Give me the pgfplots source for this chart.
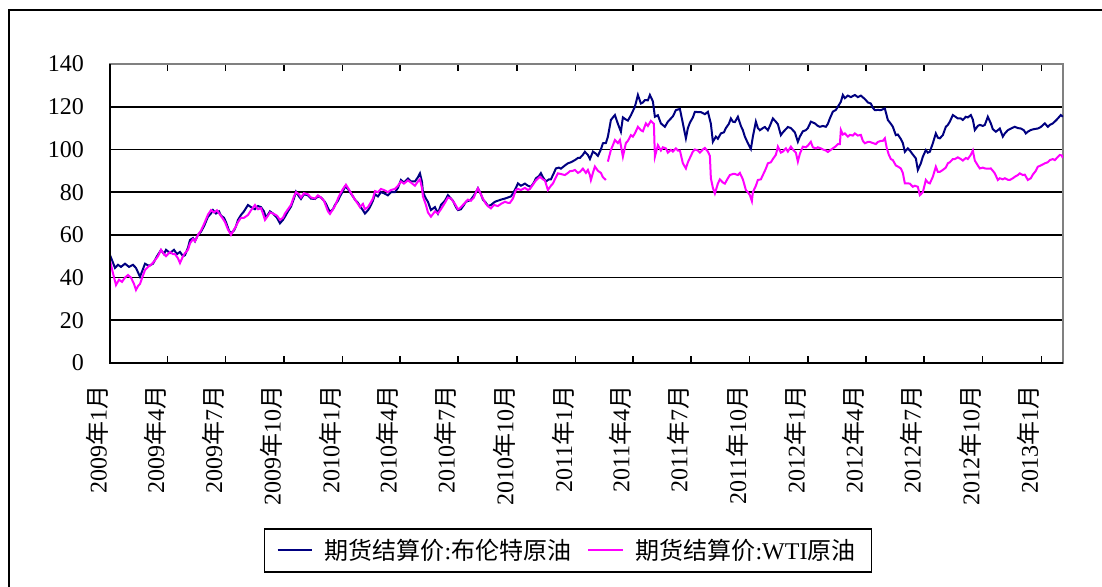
\documentclass[border=0pt]{standalone}
\usepackage{fontspec}
\setmainfont{Liberation Serif}
\newfontfamily\cjk{Noto Sans CJK SC}
\usepackage{pgfplots}
\usepackage{pgfplotstable}
\pgfplotsset{compat=1.18}
\definecolor{brentc}{RGB}{0,0,128}
\definecolor{wtic}{RGB}{255,0,255}
\newcommand\ny[2]{#1{\cjk 年}#2{\cjk 月}}

% p = horizontal position on the reference (date axis), v = price
\pgfplotstableread{
p v
110 50.5
113 47
115 44.5
118 46
121 45
125 46.5
129 45
133 46
136 44.5
140 40.4
143 44
145 46.5
149 45.5
153 46.5
157 50
161 52.9
164 51
166 53
170 51.5
174 53
177 51
180 52
183 50
185 50.5
188 54
190 57.6
193 58.5
195 57
198 60
201 61.5
204 64
208 68.5
211 70
213 71.6
216 70
219 71
221 69
224 68
226 66
229 62
231 60.8
234 62
236 64
238 67
241 69.3
244 71
248 74
251 73
255 72
258 73.5
261 73
264 71
266 68
270 71
273 70
277 68
280 65.4
283 67
285 68.5
288 71
291 73.2
294 77
296 80.2
299 78
301 76.8
304 79
308 78.5
311 77
315 76.8
318 78
321 77.5
324 76
326 74.6
328 72.5
330 70.8
333 72
335 74
338 76
340 78
343 80.5
345 82.6
348 81.5
350 80
353 78
355 76.5
358 75
360 73.5
363 71.5
365 70
368 71.5
370 73
373 76
375 79
378 78
381 80
384 79.5
388 78.5
391 80
395 80
398 82
401 85.7
404 84.5
408 86.4
411 85
415 85
418 87
420 88.8
422 85
423 80
426 77
428 75.5
431 71.6
435 73
438 70
441 74
445 76
448 78.6
451 77
453 76
456 73
458 71.6
461 72
464 74
466 75.5
469 76
471 76.5
474 78.5
476 80
478 81.8
481 79
483 76.5
486 75
488 73.5
491 74
495 75.5
498 76
501 76.5
505 77
508 77.5
511 78
513 79.4
516 82
518 84.1
521 83
525 84
528 83
531 82.5
534 84.5
536 86.5
539 87.5
541 88.9
543 87
546 85
549 86
551 86
554 89
556 91.1
559 91.5
561 91
565 92.5
568 93.5
571 94
575 95
578 96
580 96
583 97.5
585 98.9
588 97.4
590 95.5
593 99
596 98
598 97
601 100
603 102.9
606 103
608 106
611 113.8
613 115
615 116.1
618 112
621 108.3
623 115
626 114
628 113.5
631 116
633 118
635 120
638 125.5
641 121.5
643 122
645 123.1
648 123
650 125.5
653 122.5
655 115.3
658 116
661 112.2
665 110.6
668 113
671 114.5
673 115.5
676 118.4
680 119
683 112.2
686 105.2
688 110
690 112.5
693 115
695 117.6
698 117.5
701 117.5
705 116.5
708 117.6
711 112
713 103.6
716 106
718 105
721 107.5
724 108
726 110
729 112
731 114.5
733 113
735 112.8
738 115.3
741 111
743 109
745 106
748 102.9
751 100.2
753 106
756 113
758 110
760 109
763 110
765 110.5
768 109
770 111
773 114.5
776 113
778 111.8
781 106.7
783 108
786 109.5
788 110.5
791 110
793 109
795 108
798 103.6
800 106
803 108.5
806 109
808 110
811 113
815 112.2
818 111
820 110.6
823 111
826 110.6
828 112
830 114.5
833 117.7
836 118.5
838 120
841 122.3
843 125.5
845 124
848 125.2
851 124.5
855 125.5
858 124.5
861 125.2
864 124
866 123.1
868 122
871 121.5
873 119.5
875 118.4
878 118.5
881 118.4
885 119.2
888 113.8
891 112
893 110.6
896 106.7
898 107
901 104.9
903 103
905 98.9
908 100.5
910 99.5
913 97.6
916 95.8
918 90.4
921 93.5
923 96.6
926 99.7
928 98.5
930 98.9
933 102.9
936 107.5
938 105.5
940 105.2
943 106.7
946 110.6
948 111.5
950 113
953 116.1
955 115.5
958 114.5
961 114.5
963 113.8
966 115.3
968 115
971 116.1
973 114
975 109.1
978 111
980 111.5
983 111
985 111.5
988 115.3
991 112.2
993 109.5
996 108.3
998 109
1000 109.8
1003 106
1005 107.5
1008 109
1012 110
1015 110.6
1018 110
1021 109.8
1024 109
1026 107.5
1028 108.3
1031 109.1
1034 109.5
1038 109.8
1041 110.5
1045 112.2
1048 110.6
1050 111.5
1053 112.2
1056 113.5
1058 114.5
1061 116.1
1063 115.3
}\brent

\pgfplotstableread{
p v
110 48
113 42
116 36.5
119 39
122 38
125 40
128 41.2
131 40
134 37
136 34.2
138 36
140 37
143 41
145 43.5
148 45
151 46
154 47.5
158 50
161 53
164 51
166 50
170 52
173 51
175 51
178 49
180 46.8
183 50
185 51.5
188 53
190 56
193 58
195 57
198 60
201 62
204 65
208 69.5
211 71.6
214 70.5
217 71.5
220 69.5
223 67.5
225 66
228 62.5
231 60
234 62.5
236 64
238 66
241 68
244 68
248 69.3
251 71.5
255 74
258 72
261 72.5
263 70
265 67
268 69
270 70.5
273 70
277 69
280 67
283 68
285 70
288 72
291 74
294 78
296 80
299 79
301 77.5
304 79.5
308 79
311 77.5
315 77
318 78.5
321 77.5
324 76
326 73.5
328 71
330 69.8
333 72
335 73.5
338 77
340 79
343 81.5
346 83.5
348 82
350 80.5
353 78
355 76.5
358 74.5
360 73
363 74.5
365 72
368 73
370 74.5
373 77
375 80.5
378 80
381 81.5
384 81
388 80
391 81
395 81.5
398 83
401 85
404 84
408 85.5
411 84.5
415 83
418 85
420 86
422 82
423 78
426 74
428 70.5
431 68.5
435 71
438 70
441 72
445 75
448 77.5
451 77
455 74.5
458 72
460 72.5
463 74
465 75
468 76.5
471 76
474 77.5
476 80
478 81.8
481 79
483 77
486 74.5
488 73.5
491 72.4
494 74
498 73.5
501 74.5
505 75.5
508 75
510 75
513 77
516 81
518 81.5
521 81
525 82
528 81
530 81.5
533 83.5
536 85.5
540 87.2
543 86
545 85.5
548 81
551 83
553 84
556 87
558 88.8
561 88.5
565 88
568 89
570 89.8
573 90
575 90.4
578 89
580 89.5
583 91
586 89
588 90.4
590 88
591 85.7
593 89
595 92
598 90
601 89
603 87
606 85.7
607 nan
608 94.3
611 99.8
613 102
615 104.4
618 103
620 104.4
623 96.6
626 103
628 104
631 106.7
633 106
635 107.5
638 110.6
641 109
643 108.5
646 112.2
648 111
651 113.4
654 112
655 96.6
658 102
661 99.5
663 101
666 100.5
668 98.5
671 99.8
673 99
676 100.5
678 99.5
680 99.5
683 93.5
686 91.1
688 94
690 96
693 99
695 100
698 99.5
700 98.5
703 100
705 100.7
708 99
710 97
711 86.5
713 82
715 79.4
718 84
720 86
723 84.5
725 84
728 86.5
730 88
733 88.5
735 88.5
738 88
740 89
743 86
746 81
748 80
750 78.6
752 75.8
753 80
756 83
758 85.7
761 86
763 88
766 91
768 93.5
771 94
773 95.5
776 97.5
778 101.3
781 98.5
783 99
786 100.5
788 99
791 101.3
793 100
796 98.5
798 94.3
800 98
803 101.3
806 101
808 101.8
811 103.6
813 101
816 100.5
818 101
821 100.5
823 100
826 99.5
828 98.8
830 99.5
833 100.5
836 101.5
838 102.5
840 102.5
841 109.1
843 107
845 107.5
848 106
850 106.8
853 106.5
855 107.5
858 106.5
861 106.8
863 104
865 102.9
868 103.5
870 103.5
873 103
876 102.5
878 103.5
881 104
883 104
885 105.2
887 100.5
889 97.5
891 95.5
893 95
896 92.5
898 92
901 91.1
903 89
905 84.1
908 84.1
910 84
913 82.5
915 83
918 82.5
920 78.6
921 79
923 80
926 85.7
928 84.5
930 84.1
933 87.2
936 91.9
938 89.5
940 89.5
943 90.4
946 91.5
948 93.5
950 94
953 95.5
955 95.5
958 96.3
961 95.5
963 94.8
966 96
968 95.5
971 97.5
973 99.5
975 94.8
978 92.5
980 91.1
983 91.5
985 91.1
988 91
991 91.1
993 90
995 88.8
998 85.7
1000 86.5
1003 86
1005 86.5
1008 85.8
1010 85.7
1013 86.5
1015 87.2
1018 88
1020 88.8
1023 88
1025 88.2
1028 85.7
1031 86.5
1033 88.2
1036 90
1038 91.9
1041 92.5
1043 93
1045 93.5
1048 94
1050 95
1053 95.5
1055 95
1058 96.5
1060 97.4
1062 97.2
1063 96
}\wti

\begin{document}
\begin{tikzpicture}
\begin{axis}[
  name=ax,
  at={(55pt,111.5pt)}, anchor=south west,
  scale only axis, width=476.5pt, height=149.5pt,
  xmin=0, xmax=1495, ymin=0, ymax=140,
  xtick={0,90,181,273,365,455,546,638,730,820,911,1003,1095,1186,1277,1369,1461},
  xticklabels={\ny{2009}{1},\ny{2009}{4},\ny{2009}{7},\ny{2009}{10},\ny{2010}{1},\ny{2010}{4},\ny{2010}{7},\ny{2010}{10},\ny{2011}{1},\ny{2011}{4},\ny{2011}{7},\ny{2011}{10},\ny{2012}{1},\ny{2012}{4},\ny{2012}{7},\ny{2012}{10},\ny{2013}{1}},
  ytick={0,20,...,120},
  extra y ticks={140},
  extra y tick style={grid=none},
  ymajorgrids,
  grid style={black, line width=0.8pt},
  axis line style={draw=black!50, line width=0.8pt},
  xtick align=inside,
  major tick length=3.5pt,
  xtick style={black, line width=0.8pt},
  ytick style={draw=none},
  xticklabel style={rotate=90, anchor=south east, inner sep=0.5pt},
  xticklabel shift=10.5pt,
  yticklabel shift=9.5pt,
  tick label style={font=\fontsize{12}{14}\selectfont},
  /pgf/number format/assume math mode=true,
  unbounded coords=jump,
  legend columns=2,
  legend style={at={(0.4806,-0.627)}, anchor=center, draw=black, line width=0.8pt,
    font=\fontsize{12}{14}\selectfont, inner xsep=6pt, inner ysep=3pt,
    /tikz/every odd column/.append style={column sep=4pt},
    /tikz/every even column/.append style={column sep=6pt}},
]
\addplot[brentc, line width=1pt] table[x expr={(\thisrow{p}-110)*1.5684}, y=v] {\brent};
\addlegendentry{{\cjk 期货结算价}:{\cjk 布伦特原油}}
\addplot[wtic, line width=1pt] table[x expr={(\thisrow{p}-110)*1.5684}, y=v] {\wti};
\addlegendentry{{\cjk 期货结算价}:WTI{\cjk 原油}}
\end{axis}
\draw[black, line width=0.8pt] (ax.north west) -- (ax.south west) -- (ax.south east);
\draw[black, line width=1pt] (4.5pt,-10pt) -- (4.5pt,288pt) -- (570pt,288pt);
\pgfresetboundingbox
\path[use as bounding box] (0,0) rectangle (551pt,293pt);
\end{tikzpicture}
\end{document}
